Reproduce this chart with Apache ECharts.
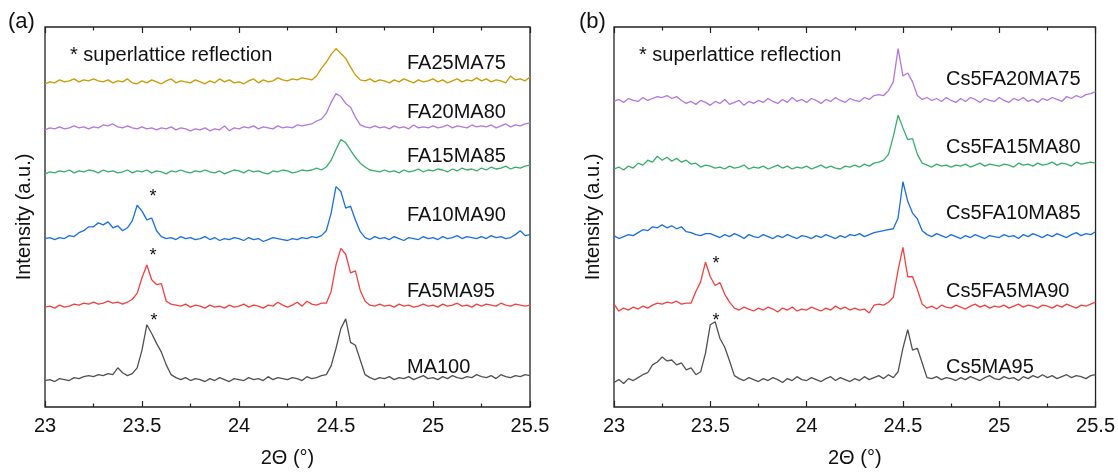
<!DOCTYPE html>
<html>
<head>
<meta charset="utf-8">
<title>XRD superlattice</title>
<script src="https://cdn.jsdelivr.net/npm/echarts@6/dist/echarts.min.js"></script>
<style>
  html, body { margin: 0; padding: 0; background: #fff; }
  #chart { width: 1118px; height: 473px; }
</style>
</head>
<body>
<div id="chart"></div>
<script>
// 2theta sampling: 23.000 .. 25.500 deg, step 0.025 (101 points)
const thetaStart = 23
const thetaStep = 0.025
const xTicks = [23, 23.5, 24, 24.5, 25, 25.5]

// panel (a) - intensities as plotted (stacked, arbitrary units)
const fa25ma75 = [
  330,332,331,334,332,333,335,332,334,333,
  335,333,332,334,331,333,332,335,331,330,
  333,331,334,332,330,333,335,331,333,332,
  331,334,332,330,333,331,335,332,334,331,
  332,330,333,335,331,334,332,333,336,334,
  333,335,334,336,335,334,338,346,352,360,
  366,361,356,347,339,334,333,335,332,334,
  333,331,334,332,335,333,331,334,332,333,
  335,332,334,331,333,335,332,334,333,336,
  333,335,332,334,333,331,338,334,335,333,
  337
]
const fa20ma80 = [
  283,285,284,286,284,285,287,285,286,284,
  286,285,288,287,289,286,285,287,285,284,
  286,284,285,283,285,284,286,283,285,284,
  282,284,283,285,282,284,283,287,282,285,
  284,286,285,287,284,286,285,284,287,285,
  286,285,288,287,288,289,292,294,300,311,
  320,317,310,306,296,288,286,285,287,285,
  286,284,287,285,286,284,288,285,286,285,
  287,285,286,288,285,287,286,285,288,286,
  287,286,288,285,287,289,286,288,287,289,
  290
]
const fa15ma85 = [
  238,240,239,241,240,242,239,241,240,242,
  241,239,242,240,241,239,240,242,239,241,
  240,242,239,241,240,238,241,240,242,240,
  239,241,240,242,240,239,241,238,240,242,
  241,239,242,240,241,239,238,241,240,242,
  241,239,240,242,241,242,244,242,245,252,
  263,273,270,262,255,249,245,242,241,240,
  242,240,241,239,242,240,241,243,240,242,
  241,243,242,240,243,241,244,242,243,241,
  244,242,245,243,244,246,243,245,244,246,
  247
]
const fa10ma90 = [
  172,173,171,173,172,175,174,178,180,184,
  184,188,186,189,183,185,180,183,190,206,
  200,191,193,180,174,172,173,171,174,172,
  173,171,172,174,171,173,170,172,171,173,
  172,170,173,171,172,169,171,173,172,171,
  170,172,171,173,172,174,173,175,180,198,
  225,220,203,205,191,179,173,171,174,172,
  173,171,174,172,170,173,172,171,174,172,
  173,171,174,172,173,175,172,174,173,172,
  174,172,175,173,174,172,173,176,180,175,
  176
]
const fa5ma95 = [
  102,103,101,104,102,103,105,104,106,105,
  107,105,106,108,106,107,105,107,110,116,
  132,145,130,125,126,108,105,104,103,105,
  102,104,103,101,104,102,103,101,104,102,
  103,105,102,104,103,101,104,103,107,104,
  102,104,107,103,108,105,104,106,106,118,
  145,162,156,137,139,119,108,104,103,105,
  103,104,102,105,103,104,102,103,105,103,
  104,102,105,103,104,106,103,104,102,105,
  103,105,104,103,106,104,103,105,104,103,
  104
]
const ma100 = [
  27,28,26,29,28,27,30,29,31,32,
  31,33,32,34,33,40,35,32,34,40,
  58,84,75,65,56,43,33,30,28,30,
  27,29,28,26,29,27,30,28,26,29,
  28,27,30,28,29,27,31,28,30,29,
  28,30,29,27,31,29,30,32,33,42,
  60,80,90,66,63,48,33,30,28,30,
  29,31,28,30,29,31,28,30,32,29,
  30,28,31,29,32,30,29,31,30,33,
  31,30,32,29,33,31,30,32,31,33,
  32
]

// panel (b)
const cs5fa20ma75 = [
  312,314,311,315,313,312,316,313,315,317,
  316,318,315,317,313,310,312,309,313,311,
  308,312,310,314,309,311,313,308,312,310,
  313,311,315,312,310,314,311,316,312,314,
  311,315,313,310,314,312,316,313,311,315,
  313,312,316,314,318,319,318,323,332,366,
  338,341,332,318,314,316,313,315,312,316,
  313,311,315,312,316,314,311,315,313,312,
  316,313,311,315,313,316,312,314,311,315,
  313,316,314,312,317,315,318,316,319,320,
  322
]
const cs5fa15ma80 = [
  243,245,242,246,244,249,247,252,250,256,
  252,255,251,254,250,252,248,249,245,247,
  246,244,245,243,246,244,245,247,243,245,
  244,246,243,245,247,244,246,243,245,244,
  246,243,245,247,244,246,244,243,246,245,
  247,245,248,246,249,250,252,258,276,298,
  285,273,274,258,249,247,245,248,246,247,
  245,247,246,248,245,247,249,246,248,247,
  246,248,247,245,249,247,248,246,249,247,
  248,250,247,249,248,246,250,248,249,250,
  249
]
const cs5fa10ma85 = [
  175,172,174,176,175,178,181,180,184,183,
  186,183,185,182,184,179,178,176,175,177,
  177,175,173,176,174,177,175,172,176,174,
  173,176,174,172,175,173,176,174,172,175,
  174,172,175,173,176,174,172,175,173,176,
  175,177,174,176,178,179,180,181,182,193,
  230,210,198,192,180,176,174,177,175,173,
  176,174,172,175,173,176,174,172,175,174,
  173,176,174,175,172,176,174,177,175,173,
  176,174,177,175,173,176,178,175,177,176,
  179
]
const cs5fa5ma90 = [
  105,98,101,99,102,100,103,101,104,106,
  105,107,106,108,105,106,106,118,128,148,
  133,124,127,115,107,101,99,102,100,98,
  101,99,102,100,97,101,99,102,98,100,
  99,102,100,98,101,99,103,100,102,99,
  101,99,100,96,104,105,104,107,112,140,
  163,133,133,120,105,101,103,100,104,102,
  101,104,102,100,103,105,102,104,101,103,
  102,104,101,103,105,102,104,103,101,104,
  103,101,104,102,105,103,101,104,103,105,
  107
]
const cs5ma95 = [
  25,28,24,29,27,30,33,35,43,46,
  51,47,48,43,45,38,40,33,36,55,
  84,87,70,61,47,32,29,27,30,28,
  26,29,27,30,28,25,29,27,31,28,
  27,30,28,26,29,31,27,30,28,26,
  29,27,31,28,30,32,29,33,30,36,
  60,79,58,60,45,30,29,31,28,30,
  29,27,30,28,31,29,27,30,32,29,
  28,31,29,30,27,31,29,32,30,33,
  30,32,29,31,33,30,32,31,29,32,
  33
]

const seriesA = [
  { name: 'FA25MA75', data: fa25ma75, color: '#CC9900' },
  { name: 'FA20MA80', data: fa20ma80, color: '#B177DE' },
  { name: 'FA15MA85', data: fa15ma85, color: '#37AD6B' },
  { name: 'FA10MA90', data: fa10ma90, color: '#1A6FDF' },
  { name: 'FA5MA95', data: fa5ma95, color: '#F14040' },
  { name: 'MA100', data: ma100, color: '#515151' }
]
const seriesB = [
  { name: 'Cs5FA20MA75', data: cs5fa20ma75, color: '#B177DE' },
  { name: 'Cs5FA15MA80', data: cs5fa15ma80, color: '#37AD6B' },
  { name: 'Cs5FA10MA85', data: cs5fa10ma85, color: '#1A6FDF' },
  { name: 'Cs5FA5MA90', data: cs5fa5ma90, color: '#F14040' },
  { name: 'Cs5MA95', data: cs5ma95, color: '#515151' }
]

const FONT = '"Liberation Sans", Arial, Helvetica, sans-serif'
const INK = '#111'

function toPairs(vals) {
  return vals.map((v, i) => [+(thetaStart + i * thetaStep).toFixed(3), v])
}

function makeLines(list, axisIdx) {
  return list.map(s => ({
    name: s.name,
    type: 'line',
    xAxisIndex: axisIdx,
    yAxisIndex: axisIdx / 2,
    data: toPairs(s.data),
    showSymbol: false,
    symbol: 'none',
    lineStyle: { color: s.color, width: 1.3 },
    itemStyle: { color: s.color },
    silent: true
  }))
}

function bottomAxis(gridIndex) {
  return {
    type: 'value', gridIndex: gridIndex, position: 'bottom',
    min: xTicks[0], max: xTicks[xTicks.length - 1], interval: 0.5,
    axisLine: { show: false },
    axisTick: { show: true, inside: true, length: 6, lineStyle: { color: '#222', width: 1.2 } },
    minorTick: { show: true, splitNumber: 2, length: 3.5, lineStyle: { color: '#222', width: 1.2 } },
    splitLine: { show: false },
    axisLabel: { fontSize: 20, color: INK, fontFamily: FONT, margin: 9 },
    name: '2Θ (°)', nameLocation: 'middle', nameGap: 41,
    nameTextStyle: { fontSize: 20, color: INK, fontFamily: FONT }
  }
}
function topAxis(gridIndex) {
  return {
    type: 'value', gridIndex: gridIndex, position: 'top',
    min: xTicks[0], max: xTicks[xTicks.length - 1], interval: 0.5,
    axisLine: { show: false },
    axisTick: { show: true, inside: true, length: 6, lineStyle: { color: '#222', width: 1.2 } },
    minorTick: { show: true, splitNumber: 2, length: 3.5, lineStyle: { color: '#222', width: 1.2 } },
    splitLine: { show: false },
    axisLabel: { show: false }
  }
}
function leftAxis(gridIndex) {
  return {
    type: 'value', gridIndex: gridIndex, min: 0, max: 388,
    axisLine: { show: false }, axisTick: { show: false },
    axisLabel: { show: false }, splitLine: { show: false },
    name: 'Intensity (a.u.)', nameLocation: 'middle', nameGap: 11,
    nameTextStyle: { fontSize: 20, color: INK, fontFamily: FONT }
  }
}

function txt(x, y, s, size) {
  return {
    type: 'text', x: x, y: y, silent: true,
    style: { text: s, fill: INK, font: (size || 20) + 'px ' + FONT, align: 'left', verticalAlign: 'middle' }
  }
}
function star(x, y) {
  return {
    type: 'text', x: x, y: y + 4, silent: true,
    style: { text: '*', fill: INK, font: '18px ' + FONT, align: 'center', verticalAlign: 'middle' }
  }
}

const chart = echarts.init(document.getElementById('chart'), null, { renderer: 'canvas' })

chart.setOption({
  backgroundColor: '#fff',
  animation: false,
  grid: [
    { left: 45, top: 27, width: 485, height: 388, show: true, borderColor: '#222', borderWidth: 1.3, backgroundColor: 'transparent' },
    { left: 614, top: 27, width: 484, height: 388, show: true, borderColor: '#222', borderWidth: 1.3, backgroundColor: 'transparent' }
  ],
  xAxis: [bottomAxis(0), topAxis(0), bottomAxis(1), topAxis(1)],
  yAxis: [leftAxis(0), leftAxis(1)],
  series: makeLines(seriesA, 0).concat(makeLines(seriesB, 2)),
  graphic: [
    txt(8, 22, '(a)', 22),
    txt(579, 22, '(b)', 22),
    txt(70, 55, '* superlattice reflection'),
    txt(639, 55, '* superlattice reflection'),
    txt(407, 63, 'FA25MA75'),
    txt(407, 112, 'FA20MA80'),
    txt(407, 156, 'FA15MA85'),
    txt(407, 215, 'FA10MA90'),
    txt(407, 291, 'FA5MA95'),
    txt(407, 367, 'MA100'),
    txt(946, 79, 'Cs5FA20MA75'),
    txt(946, 147, 'Cs5FA15MA80'),
    txt(946, 213, 'Cs5FA10MA85'),
    txt(946, 291, 'Cs5FA5MA90'),
    txt(946, 367, 'Cs5MA95'),
    star(153, 193), star(153, 252), star(154, 317),
    star(716, 260), star(716, 317)
  ]
})
</script>
</body>
</html>
